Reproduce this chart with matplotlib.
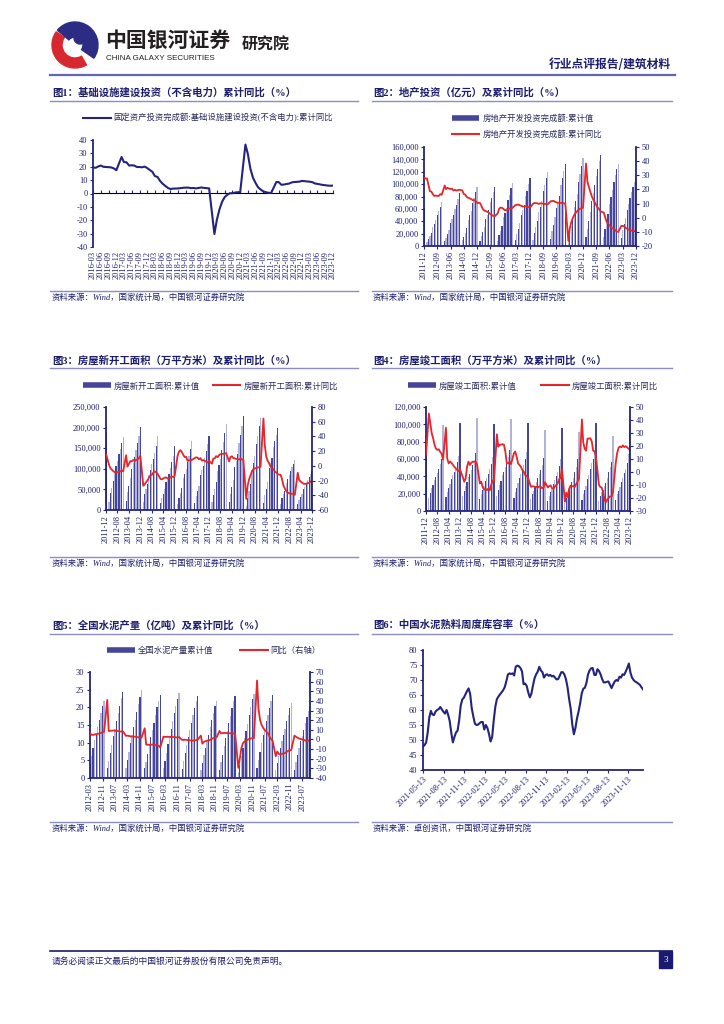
import numpy as np
import pandas as pd
import matplotlib
matplotlib.use('Agg')
import matplotlib.pyplot as plt
import matplotlib.dates as mdates
from matplotlib.lines import Line2D
from matplotlib.patches import Rectangle, Wedge, Circle
from matplotlib.ticker import FuncFormatter, MultipleLocator, NullFormatter

plt.rcParams['font.family'] = ['Liberation Serif', 'Noto Sans CJK SC', 'DejaVu Sans']
plt.rcParams['axes.unicode_minus'] = False

W, H = 724, 1024
NAVY = '#24247c'
TXT = '#1d1d6e'
RED = '#e5262a'
BAR_DARK = '#45459a'
BAR_LIGHT = '#b3b3da'
RULE = '#8c8cc8'

# ---------------- data ----------------
# fig1: infrastructure investment (ex power), cumulative yoy %, 2016-03 .. 2023-12 (no Jan)
infra_yoy = [
    19.5, 19.2, 20.2, 20.9, 20.0, 19.8, 19.7, 19.5, 18.8, 17.4,
    27.3, 23.5, 23.3, 20.9, 21.1, 20.9, 19.8, 19.8, 19.6, 20.1, 19.0,
    16.1, 13.0, 12.4, 9.4, 7.3, 5.7, 4.2, 3.3, 3.7, 3.7, 3.8,
    4.3, 4.4, 4.4, 4.0, 4.1, 3.8, 4.2, 4.5, 4.2, 4.0, 3.8,
    -30.3, -19.7, -11.8, -6.3, -2.7, -1.0, 0.2, 0.2, 0.7, 1.0, 0.9,
    36.6, 29.7, 18.4, 11.8, 7.8, 4.6, 2.9, 1.5, 1.0, 0.5, 0.4,
    8.6, 8.5, 6.5, 6.7, 7.1, 7.4, 8.3, 8.6, 8.7, 8.9, 9.4,
    9.0, 8.8, 8.5, 7.5, 7.2, 6.8, 6.4, 6.2, 5.9, 5.8, 5.9,
]

# fig2: real estate investment, 2011-12 .. 2023-12 (no Jan)
re_inv_cum = [
    61797,
    5880, 10926, 15694, 21245, 30636, 36360, 42543, 49484, 56019, 62755, 71804,
    7770, 13392, 19000, 25961, 36828, 43568, 50591, 59251, 67031, 76193, 86013,
    9446, 15339, 21747, 29483, 42019, 49453, 57208, 68751, 78005, 86811, 95036,
    8786, 16015, 22647, 30718, 43955, 50807, 58240, 70535, 78019, 87190, 95979,
    8598, 17677, 24233, 32988, 46631, 53893, 61816, 74598, 83008, 93387, 102581,
    9478, 19292, 27732, 36997, 50610, 58050, 66220, 80644, 88934, 100387, 109799,
    10357, 21286, 30592, 40632, 55531, 63788, 72847, 88948, 99325, 110083, 120264,
    12090, 23803, 34217, 46075, 61609, 70665, 81080, 98008, 109603, 121265, 132194,
    10115, 21963, 33103, 45920, 62780, 73120, 84786, 103484, 116556, 129492, 141443,
    13986, 27576, 40240, 54318, 72179, 84895, 98060, 112568, 124934, 137072, 147602,
    14499, 27765, 39154, 52134, 68314, 79462, 90809, 103559, 113945, 123863, 132895,
    13669, 25974, 35514, 45701, 58550, 67717, 76900, 87269, 95922, 104045, 110913,
]
re_inv_yoy = [
    27.9,
    27.8, 23.5, 18.7, 18.5, 16.6, 15.4, 15.6, 15.4, 15.4, 16.7, 16.2,
    22.8, 20.2, 21.1, 20.6, 20.3, 20.5, 19.3, 19.7, 19.2, 19.5, 19.8,
    19.3, 16.8, 16.4, 14.7, 14.1, 13.7, 13.2, 12.5, 12.4, 11.9, 10.5,
    10.4, 8.5, 6.0, 5.1, 4.6, 4.3, 3.5, 2.6, 2.0, 1.3, 1.0,
    3.0, 6.2, 7.2, 7.0, 6.1, 5.3, 5.4, 5.8, 6.6, 6.5, 6.9,
    8.9, 9.1, 9.3, 8.8, 8.5, 7.9, 7.9, 8.1, 7.8, 7.5, 7.0,
    9.9, 10.4, 10.3, 10.2, 9.7, 10.2, 10.1, 9.9, 9.7, 9.7, 9.5,
    11.6, 11.8, 11.9, 11.2, 10.9, 10.6, 10.5, 10.5, 10.3, 10.2, 9.9,
    -16.3, -7.7, -3.3, -0.3, 1.9, 3.4, 4.6, 5.6, 6.3, 6.8, 7.0,
    38.3, 25.6, 21.6, 18.3, 15.0, 12.7, 10.9, 8.8, 7.2, 6.0, 4.4,
    3.7, 0.7, -2.7, -4.0, -5.4, -6.4, -7.4, -8.0, -8.8, -9.8, -10.0,
    -5.7, -5.8, -6.2, -7.2, -7.9, -8.5, -8.8, -9.1, -9.3, -9.4, -9.6,
]

# fig3: new construction starts area (10k m2), 2011-12 .. 2023-12 (no Jan)
starts_cum = [
    190083,
    20000, 40500, 54000, 71000, 92000, 107000, 120000, 136000, 149000, 162000, 177334,
    22000, 43000, 58000, 77000, 100000, 114000, 128000, 146000, 162000, 180000, 201208,
    20000, 38000, 50000, 64000, 86000, 98000, 111000, 124000, 138000, 156000, 179592,
    17000, 30000, 40000, 51000, 67000, 77000, 88000, 103000, 116000, 130000, 154454,
    15000, 30000, 41000, 54000, 77000, 88000, 99000, 116000, 130000, 147000, 166928,
    17000, 34000, 46000, 59000, 84000, 96000, 108000, 127000, 143000, 161000, 178654,
    19000, 37000, 51000, 68000, 95000, 110000, 125000, 146000, 165000, 188000, 209342,
    19000, 39000, 55000, 74000, 105000, 120000, 137000, 163000, 182000, 205000, 227154,
    10000, 28000, 45000, 64000, 97000, 113000, 130000, 160000, 180000, 203000, 224433,
    17000, 36000, 51000, 68000, 101000, 113000, 126000, 152000, 167000, 183000, 198895,
    15000, 30000, 38000, 47000, 66000, 75000, 84000, 95000, 104000, 112000, 120587,
    14000, 24000, 31000, 39000, 50000, 57000, 64000, 72000, 79000, 87000, 95376,
]
starts_yoy = [
    16.2,
    2.0, -3.0, -5.0, -7.0, -8.5, -9.0, -8.5, -8.0, -7.5, -6.5, -7.3,
    14.5, -1.0, 2.5, 6.5, 6.0, 8.0, 6.5, 8.0, 9.0, 10.5, 13.5,
    -27.0, -25.2, -22.3, -19.8, -16.4, -12.9, -12.3, -9.3, -7.5, -9.0, -10.7,
    -17.7, -18.4, -17.3, -16.0, -15.8, -16.8, -16.8, -15.6, -14.7, -15.0, -14.0,
    13.7, 19.2, 21.4, 18.8, 14.9, 12.0, 12.2, 6.8, 7.6, 7.4, 8.1,
    10.4, 11.6, 11.2, 8.9, 10.6, 7.2, 7.8, 6.9, 5.6, 4.8, 7.0,
    2.9, 9.7, 10.2, 13.2, 11.8, 14.4, 15.9, 16.4, 16.3, 16.8, 17.2,
    6.0, 11.9, 13.1, 10.5, 10.1, 9.5, 8.9, 8.6, 10.0, 8.6, 8.5,
    -44.9, -27.2, -18.4, -12.8, -7.6, -4.5, -3.6, -2.8, -2.1, -2.0, -1.2,
    64.3, 28.2, 12.8, 6.9, 3.8, -0.9, -3.2, -4.5, -7.7, -9.1, -11.4,
    -12.2, -17.5, -26.3, -30.6, -34.4, -36.1, -37.2, -38.0, -37.8, -38.9, -39.4,
    -9.4, -19.2, -21.2, -22.6, -24.3, -24.5, -24.4, -23.4, -23.2, -21.2, -20.4,
]

# fig4: completed area (10k m2), 2011-12 .. 2023-12 (no Jan)
completed_cum = [
    92620,
    15000, 21000, 26000, 30500, 35500, 39500, 43800, 48800, 54000, 60500, 99425,
    16000, 22000, 27000, 31500, 37000, 41000, 45500, 50500, 56000, 63000, 101435,
    17000, 23500, 28500, 33000, 39000, 43000, 47500, 53000, 59000, 67000, 107459,
    14000, 20000, 24500, 29000, 34500, 38500, 43000, 48500, 54000, 62000, 100039,
    17500, 24500, 29500, 34500, 41000, 45500, 50500, 57000, 62000, 70000, 106128,
    15500, 22000, 27000, 32000, 38500, 43000, 48000, 53500, 59500, 68000, 101486,
    13500, 19500, 23500, 28500, 34000, 38000, 42500, 47500, 53500, 61500, 93550,
    11500, 17500, 21500, 26000, 31500, 35500, 40000, 45500, 51500, 60500, 95942,
    9000, 15000, 19500, 24000, 29500, 33500, 38000, 44500, 50500, 59500, 91218,
    13000, 19500, 24000, 28500, 36500, 42000, 48000, 55000, 59500, 69000, 101412,
    12000, 17500, 21500, 24500, 28500, 32500, 38000, 44500, 50500, 56000, 86222,
    13202, 19422, 22741, 27826, 33904, 38405, 43726, 48705, 55151, 65237, 99831,
]
completed_yoy = [
    13.3,
    45.0, 38.0, 30.0, 26.0, 21.0, 18.0, 17.0, 17.5, 15.5, 14.0, 9.5,
    34.0, 10.5, 6.6, 8.0, 7.0, 5.5, 4.0, 2.8, 1.5, 0.7, 2.0,
    -4.2, -7.5, -5.0, 4.0, 8.0, 5.4, 7.2, 8.0, 7.8, 8.0, 5.9,
    -8.8, -7.5, -11.4, -13.5, -13.0, -14.0, -12.7, -14.0, -10.0, -6.5, -6.9,
    29.0, 19.5, 21.0, 21.0, 21.4, 21.0, 15.7, 6.6, 6.6, 8.0, 6.1,
    14.4, 15.7, 11.8, 6.6, 5.4, 4.0, 1.5, 0.2, -2.4, -3.0, -4.4,
    -11.4, -11.0, -11.0, -11.5, -11.5, -12.0, -11.0, -11.5, -12.5, -12.0, -7.8,
    -11.9, -10.8, -10.3, -12.4, -12.7, -11.3, -10.0, -8.6, -5.5, -4.5, 2.6,
    -22.9, -15.8, -19.3, -13.1, -10.5, -11.0, -10.8, -11.6, -9.2, -7.3, -4.9,
    40.4, 22.9, 17.9, 16.4, 25.7, 25.7, 26.0, 23.4, 16.3, 16.0, 11.2,
    -9.7, -11.5, -11.9, -15.3, -21.5, -23.3, -21.1, -19.9, -18.7, -19.0, -15.0,
    8.0, 14.7, 18.8, 19.6, 19.0, 20.5, 19.2, 19.8, 19.0, 17.9, 17.0,
]

# fig5: cement output (100m t), 2012-03 .. 2023-12 (no Jan)
cement_cum = [
    4.3, 6.3, 8.6, 10.7, 12.5, 14.5, 16.5, 18.5, 20.3, 21.8,
    2.9, 4.9, 7.1, 9.4, 11.8, 13.8, 16.0, 18.3, 20.5, 22.6, 24.2,
    2.9, 5.1, 7.4, 9.8, 12.3, 14.3, 16.5, 18.8, 21.0, 23.0, 24.8,
    2.7, 4.6, 6.8, 9.2, 11.6, 13.6, 15.7, 17.9, 20.0, 21.8, 23.5,
    2.7, 4.9, 7.1, 9.6, 12.0, 14.0, 16.2, 18.4, 20.5, 22.5, 24.0,
    2.6, 4.8, 7.0, 9.4, 11.7, 13.6, 15.7, 17.8, 19.9, 21.8, 23.2,
    2.3, 4.3, 6.4, 8.6, 10.5, 12.3, 14.3, 16.3, 18.5, 20.3, 21.8,
    2.4, 4.4, 6.6, 9.0, 11.4, 13.3, 15.5, 17.6, 19.8, 21.8, 23.3,
    1.7, 3.8, 6.1, 8.6, 11.2, 13.2, 15.4, 17.8, 20.1, 22.3, 23.8,
    2.8, 5.0, 7.4, 9.9, 12.3, 14.0, 16.0, 17.8, 19.9, 21.9, 23.6,
    2.3, 4.2, 6.3, 8.6, 10.6, 12.2, 14.0, 16.0, 17.9, 19.7, 21.3,
    2.4, 4.4, 6.4, 8.5, 10.5, 12.0, 13.7, 15.5, 17.4, 19.0, 20.2,
]
cement_yoy = [
    6.4, 4.8, 4.7, 5.2, 5.5, 5.8, 6.2, 6.8, 7.5, 8.0,
    41.0, 8.8, 9.0, 9.2, 9.3, 9.1, 9.0, 8.8, 8.5, 8.2, 8.5,
    3.7, 4.0, 3.6, 3.2, 3.0, 3.0, 2.8, 2.5, 2.2, 2.0, 1.8,
    11.6, -5.3, -5.5, -5.6, -5.5, -5.3, -5.5, -5.8, -6.0, -6.5, -8.4,
    3.0, 2.6, 2.8, 2.7, 2.6, 2.6, 2.5, 2.5, 2.3, 2.0, 2.5,
    -0.5, -0.4, -0.3, -0.5, -0.8, -1.0, -1.2, -1.2, -1.0, -0.8, -0.2,
    4.0, -4.3, -2.5, -1.8, -1.2, -0.8, -0.5, 0.5, 1.5, 1.8, 2.0,
    8.8, 6.4, 6.5, 6.5, 6.8, 6.5, 6.5, 6.5, 6.4, 6.3, 6.1,
    -29.5, -20.0, -9.0, -4.0, -2.1, -1.0, -0.4, 0.5, 1.0, 1.4, 1.6,
    61.1, 32.0, 20.0, 15.0, 12.0, 9.8, 8.0, 6.4, 3.0, 0.5, -1.2,
    -17.5, -12.5, -15.0, -15.5, -15.0, -14.5, -14.0, -13.0, -11.8, -11.5, -10.8,
    4.0, 2.8, 1.8, 1.0, 0.5, 0.0, -0.5, -1.0, -1.5, -1.3, -0.8,
]

# fig6: clinker storage ratio %, weekly from 2021-05-13
clinker_ratio = [
    47.8, 48.3, 49.2, 52.5, 57.5, 59.7, 58.5, 58.3, 59.5, 60.0,
    60.3, 61.0, 60.2, 59.4, 58.8, 60.0, 58.4, 56.3, 52.4, 49.2,
    51.0, 52.5, 53.1, 56.5, 61.5, 63.5, 64.1, 65.2, 66.3, 67.2,
    65.4, 60.6, 57.9, 55.5, 55.0, 55.1, 55.6, 56.0, 56.0, 53.5,
    55.0, 54.0, 52.0, 49.5, 51.0, 56.5, 61.0, 63.6, 64.5, 65.2,
    65.9, 66.6, 67.6, 69.5, 71.8, 72.2, 72.0, 72.2, 71.5, 74.4,
    74.8, 74.6, 74.0, 72.9, 68.6, 68.8, 68.0, 65.8, 64.2, 65.5,
    68.2, 70.6, 71.9, 72.8, 74.4, 73.2, 72.6, 70.8, 71.7, 71.9,
    71.4, 71.7, 71.2, 71.4, 70.8, 70.2, 70.3, 71.4, 72.6, 72.6,
    71.8, 70.2, 67.5, 63.6, 60.4, 55.2, 51.9, 54.0, 57.2, 59.5,
    62.2, 65.5, 67.1, 67.4, 69.0, 71.8, 73.2, 73.9, 74.0, 71.7,
    71.7, 73.6, 73.0, 71.9, 70.3, 69.2, 69.2, 69.4, 69.5, 68.4,
    67.3, 68.5, 69.5, 70.0, 69.7, 71.1, 70.8, 71.9, 71.7, 72.8,
    74.0, 75.5, 72.5, 70.8, 70.0, 69.5, 69.2, 68.8, 68.4, 67.6,
    66.9,
]


def monthly(start, end):
    d = pd.date_range(start, end, freq='MS')
    return d[d.month != 1]


infra_dates = monthly('2016-03-01', '2023-12-01')
re_dates = monthly('2011-12-01', '2023-12-01')
cement_dates = monthly('2012-03-01', '2023-12-01')
clinker_dates = pd.date_range('2021-05-13', periods=len(clinker_ratio), freq='7D')

# ---------------- page ----------------
fig = plt.figure(figsize=(W / 100, H / 100), dpi=100)
page = fig.add_axes([0, 0, 1, 1])
page.set_xlim(0, W)
page.set_ylim(H, 0)
page.axis('off')


def px_axes(x0, y0, x1, y1):
    ax = fig.add_axes([x0 / W, 1 - y1 / H, (x1 - x0) / W, (y1 - y0) / H])
    ax.set_zorder(2)
    return ax


def hrule(x0, x1, y, color=RULE, lw=1.0):
    page.add_line(Line2D([x0, x1], [y, y], color=color, lw=lw))


# logo
page.add_patch(Wedge((75, 45), 23, 60, 215, width=10, color='#d8282f'))
page.add_patch(Wedge((75, 45), 23, -140, 35, width=15, color='#2c2c84'))
page.add_patch(Circle((80, 38), 6, color='#2c2c84'))
page.text(105, 40, '中国银河证券', fontsize=15, fontweight='bold', color='#231f20',
          va='center', ha='left', family='Noto Sans CJK SC')
page.text(106, 58, 'CHINA GALAXY SECURITIES', fontsize=5.8, color='#231f20',
          va='center', ha='left', family='Liberation Sans')
page.text(242, 45, '研究院', fontsize=11.5, fontweight='bold', color='#231f20',
          va='center', ha='left', family='Noto Sans CJK SC')
page.text(671, 65, '行业点评报告/建筑材料', fontsize=8.5, fontweight='bold', color=TXT,
          va='center', ha='right', family='Noto Sans CJK SC')
hrule(50, 675, 75, color='#6565b5', lw=1.6)

# section titles, rules, sources
titles = [
    (52, 93, '图1：基础设施建设投资（不含电力）累计同比（%）'),
    (373, 93, '图2：地产投资（亿元）及累计同比（%）'),
    (52, 360, '图3：房屋新开工面积（万平方米）及累计同比（%）'),
    (373, 360, '图4：房屋竣工面积（万平方米）及累计同比（%）'),
    (52, 625, '图5：全国水泥产量（亿吨）及累计同比（%）'),
    (373, 625, '图6：中国水泥熟料周度库容率（%）'),
]
for x, y, t in titles:
    page.text(x, y, t, fontsize=7.5, fontweight='bold', color=TXT, va='center', ha='left')

for y in (101, 368, 634):
    hrule(50, 358, y)
    hrule(372, 672, y)
for y in (291, 557, 822):
    hrule(50, 358, y)
    hrule(372, 672, y)

sources = [
    (52, 298, '资料来源：Wind，国家统计局，中国银河证券研究院'),
    (373, 298, '资料来源：Wind，国家统计局，中国银河证券研究院'),
    (52, 564, '资料来源：Wind，国家统计局，中国银河证券研究院'),
    (373, 564, '资料来源：Wind，国家统计局，中国银河证券研究院'),
    (52, 829, '资料来源：Wind，国家统计局，中国银河证券研究院'),
    (373, 829, '资料来源：卓创资讯，中国银河证券研究院'),
]
for x, y, t in sources:
    page.text(x, y, t, fontsize=6, style='italic', color=TXT, va='center', ha='left')

# footer
hrule(50, 672, 951, color='#1a1a70', lw=1.2)
page.text(52, 961, '请务必阅读正文最后的中国银河证券股份有限公司免责声明。', fontsize=6.3,
          color=TXT, va='center', ha='left')
page.add_patch(Rectangle((659, 951), 13, 17, color='#1a1a70'))
page.text(665.5, 960, '3', fontsize=6.5, color='white', va='center', ha='center')


# ---------------- helpers ----------------
def style_y(ax, side='left'):
    ax.tick_params(axis='y', direction='out', length=2.5, width=0.8, color=NAVY,
                   labelcolor=TXT, labelsize=6, pad=1.5)
    for s in ax.spines.values():
        s.set_visible(False)
    ax.spines[side].set_visible(True)
    ax.spines[side].set_color(NAVY)
    ax.spines[side].set_linewidth(1.3)


def date_xaxis(ax, ticks, lo, hi):
    ax.set_xlim(lo, hi)
    ax.set_xticks(ticks)
    ax.xaxis.set_major_formatter(mdates.DateFormatter('%Y-%m'))
    ax.tick_params(axis='x', direction='out', length=2, width=0.8, color=NAVY,
                   labelcolor=TXT, labelsize=6, pad=1.5, labelrotation=90)
    ax.spines['bottom'].set_visible(True)
    ax.spines['bottom'].set_color(NAVY)
    ax.spines['bottom'].set_linewidth(1.3)


comma = FuncFormatter(lambda v, p: f'{int(v):,}')


def legend(ax, handles, labels, x, y, ncol=2, colsp=1.0, rowsp=0.5):
    ax.legend(handles, labels, loc='center left', bbox_to_anchor=(x / W, 1 - y / H),
              bbox_transform=fig.transFigure, ncol=ncol, frameon=False,
              handlelength=3.3, handletextpad=0.35, columnspacing=colsp,
              labelspacing=rowsp, borderpad=0, borderaxespad=0,
              prop={'family': ['Liberation Serif', 'Noto Sans CJK SC'], 'size': 6},
              labelcolor='#2a2a5e')


bar_handle = Line2D([], [], color=BAR_DARK, lw=4, solid_capstyle='butt')
red_handle = Line2D([], [], color=RED, lw=1.5)


def bar_line_chart(rect, dates, bars, line, ylim, ystep, y2lim, y2step, ticks, lo, hi):
    ax = px_axes(*rect)
    colors = [BAR_DARK if i % 2 == 0 else BAR_LIGHT for i in range(len(bars))]
    ax.bar(dates, bars, width=25, color=colors, linewidth=0)
    ax.set_ylim(*ylim)
    ax.yaxis.set_major_locator(MultipleLocator(ystep))
    style_y(ax, 'left')
    date_xaxis(ax, ticks, lo, hi)
    ax2 = ax.twinx()
    ax2.set_zorder(3)
    ax2.plot(dates, line, color=RED, lw=1.3)
    ax2.set_ylim(*y2lim)
    ax2.yaxis.set_major_locator(MultipleLocator(y2step))
    style_y(ax2, 'right')
    ax2.set_xlim(lo, hi)
    return ax, ax2


# ---------------- fig1 ----------------
ax1 = px_axes(93, 140, 333, 247)
ax1.plot(infra_dates, infra_yoy, color=NAVY, lw=1.5)
ax1.set_ylim(-40, 40)
ax1.yaxis.set_major_locator(MultipleLocator(10))
style_y(ax1, 'left')
t1 = pd.date_range('2016-03-01', '2023-12-01', freq='3MS')
ax1.set_xlim(t1[0], t1[-1])
ax1.set_xticks(t1)
ax1.xaxis.set_major_formatter(mdates.DateFormatter('%Y-%m'))
ax1.tick_params(axis='x', length=0, labelcolor=TXT, labelsize=6, pad=3, labelrotation=90)
zero_frac = (0 - ax1.get_ylim()[0]) / (ax1.get_ylim()[1] - ax1.get_ylim()[0])
sec = ax1.secondary_xaxis(zero_frac)
sec.set_xticks(mdates.date2num(t1))
sec.xaxis.set_major_formatter(NullFormatter())
sec.tick_params(axis='x', direction='out', length=2, width=0.8, color=NAVY)
sec.spines['bottom'].set_color(NAVY)
sec.spines['bottom'].set_linewidth(1.3)
legend(ax1, [Line2D([], [], color=NAVY, lw=1.5)],
       ['固定资产投资完成额:基础设施建设投资(不含电力):累计同比'], 83, 118, ncol=1)

# ---------------- fig2 ----------------
t2 = pd.date_range('2011-12-01', '2023-12-01', freq='9MS')
ax2a, ax2b = bar_line_chart((424, 147, 636, 246), re_dates, re_inv_cum, re_inv_yoy,
                            (0, 160000), 20000, (-20, 50), 10, t2, t2[0], t2[-1])
ax2a.yaxis.set_major_formatter(comma)
legend(ax2b, [bar_handle, red_handle],
       ['房地产开发投资完成额:累计值', '房地产开发投资完成额:累计同比'], 452, 126.5,
       ncol=1, rowsp=0.85)

# ---------------- fig3 ----------------
t3 = pd.date_range('2011-12-01', '2023-12-01', freq='8MS')
ax3a, ax3b = bar_line_chart((106, 407, 312, 510), re_dates, starts_cum, starts_yoy,
                            (0, 250000), 50000, (-60, 80), 20, t3, t3[0], t3[-1])
ax3a.yaxis.set_major_formatter(comma)
legend(ax3b, [bar_handle, red_handle],
       ['房屋新开工面积:累计值', '房屋新开工面积:累计同比'], 83, 386, colsp=1.6)

# ---------------- fig4 ----------------
ax4a, ax4b = bar_line_chart((426, 407, 630, 511), re_dates, completed_cum, completed_yoy,
                            (0, 120000), 20000, (-30, 50), 10, t3, t3[0], t3[-1])
ax4a.yaxis.set_major_formatter(comma)
legend(ax4b, [bar_handle, red_handle],
       ['房屋竣工面积:累计值', '房屋竣工面积:累计同比'], 408, 386, colsp=3.0)

# ---------------- fig5 ----------------
t5 = pd.date_range('2012-03-01', '2023-07-01', freq='8MS')
ax5a, ax5b = bar_line_chart((90, 672, 310, 778), cement_dates, cement_cum, cement_yoy,
                            (0, 30), 5, (-40, 70), 10, t5, t5[0], cement_dates[-1])
legend(ax5b, [bar_handle, red_handle], ['全国水泥产量累计值', '同比（右轴）'], 107, 651,
       colsp=3.3)

# ---------------- fig6 ----------------
ax6 = px_axes(423, 650, 643, 770)
ax6.plot(clinker_dates, clinker_ratio, color=NAVY, lw=1.5)
ax6.set_ylim(40, 80)
ax6.yaxis.set_major_locator(MultipleLocator(5))
style_y(ax6, 'left')
t6 = pd.date_range('2021-05-13', '2023-11-13', freq=pd.DateOffset(months=3))
ax6.set_xlim(clinker_dates[0], clinker_dates[-1])
ax6.set_xticks(t6)
ax6.xaxis.set_major_formatter(mdates.DateFormatter('%Y-%m-%d'))
ax6.tick_params(axis='x', direction='out', length=2, width=0.8, color=NAVY,
                labelcolor=TXT, labelsize=6, pad=1.5)
for lbl in ax6.get_xticklabels():
    lbl.set_rotation(45)
    lbl.set_ha('right')
    lbl.set_rotation_mode('anchor')
ax6.spines['bottom'].set_visible(True)
ax6.spines['bottom'].set_color(NAVY)
ax6.spines['bottom'].set_linewidth(1.3)

fig.savefig('out.png', dpi=100)
